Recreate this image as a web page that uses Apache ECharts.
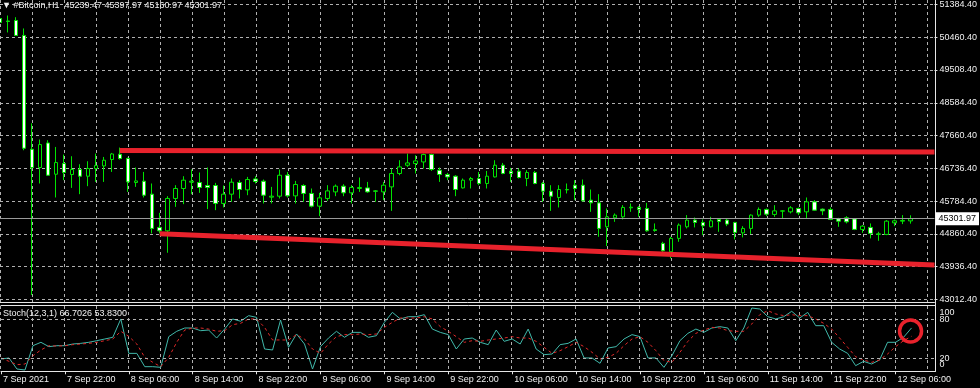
<!DOCTYPE html>
<html><head><meta charset="utf-8">
<script src="https://cdn.jsdelivr.net/npm/echarts@6/dist/echarts.min.js"></script>
<style>html,body{margin:0;padding:0;background:#000;}#c{width:980px;height:388px;}</style>
</head><body><div id="c"></div>
<script>
const symbolName = '#Bitcoin,H1';
const startTimeUTC = Date.UTC(2021, 8, 7, 14);   // first visible H1 bar: 7 Sep 2021 14:00
const blankBars = 3;                             // chart shift on the right

const opens = [50987,50917,50931,50505,47274,46755,47452,46565,46868,46556,
46698,46508,46726,46800,46982,47132,47010,46329,46366,45998,
45054,44957,45876,46159,46338,46329,46244,46244,45734,45998,
46329,46120,46431,46366,45913,45941,46536,45950,46244,46018,
45658,45876,46063,46225,46035,46159,46176,46091,46063,46205,
46585,46820,46868,46913,47123,46678,46556,46508,46176,46395,
46443,46301,46488,46820,46650,46650,46443,46613,46301,46083,
45904,46120,46253,46253,45828,45751,45071,45326,45354,45610,
45621,45592,44986,44600,44362,44742,45071,45261,45195,45071,
45280,45261,45195,44900,45025,45403,45564,45422,45516,45496,
45592,45496,45780,45573,45564,45297,45326,45297,44997,45054,
44855,44855,45184,45232,45239.47];
const highs = [51072,51072,51024,50704,48011,47549,47529,47339,47123,47075,
46848,46933,47152,47055,47169,47322,47038,46755,46630,46301,
45468,45941,46253,46508,46698,46613,46755,46318,46244,46443,
46395,46488,46508,46414,46205,46698,46630,46375,46281,46159,
46035,46253,46273,46281,46253,46471,46346,46111,46346,46726,
46962,47152,47103,47152,47152,46755,46602,46536,46443,46488,
46630,46658,46962,46885,46743,46726,46678,46658,46346,46253,
46253,46301,46395,46414,46131,45998,45592,45450,45686,45734,
45658,45751,45167,44646,44787,45167,45403,45337,45280,45354,
45309,45309,45212,45090,45422,45621,45592,45686,45544,45658,
45621,45904,45828,45592,45621,45326,45374,45317,45119,45167,
44929,45261,45280,45403,45397.97];
const lows = [50817,50591,50491,47245,43134,46301,46522,45904,46395,46176,
45998,46225,46346,46346,46630,46982,46063,46205,45904,44884,
44884,44334,45638,45714,45998,46035,45573,45544,45621,45780,
45876,45969,46301,45734,45734,45876,45904,45734,45780,45621,
45374,45808,45941,45941,45734,46063,46035,45780,45828,45524,
46536,46772,46585,46726,46658,46346,46395,45941,46159,46159,
46253,46159,46471,46565,46346,46443,46225,46281,45780,45524,
45621,46018,45828,45799,45496,44787,44523,45212,45280,45496,
45355,44929,44929,44362,44175,44646,45025,45054,44835,45054,
44929,45090,44713,44770,44864,45354,45374,45354,45309,45451,
45403,45309,45524,45403,45261,45071,45167,44977,44900,44742,
44674,44835,45090,45148,45160.97];
const closes = [50874,50903,50505,47302,46755,47407,46536,46896,46613,46698,
46508,46726,46811,46962,47140,47010,46346,46375,45969,45025,
44957,45876,46159,46395,46366,46188,46188,45734,45998,46338,
46131,46414,46358,45969,45941,46536,45950,46273,46018,45658,
45893,46091,46225,46035,46188,46188,46063,46083,46253,46585,
46772,46885,46942,47123,46698,46556,46488,46131,46395,46443,
46301,46508,46820,46585,46585,46471,46613,46301,46083,45941,
46131,46131,46159,45808,45751,45025,45354,45402,45621,45629,
45564,44957,44969,44390,44742,45119,45261,45195,45099,45241,
45224,45148,44912,45025,45403,45564,45431,45524,45524,45610,
45468,45780,45544,45524,45280,45232,45212,44997,45090,44884,
44872,45232,45241,45252,45301.97];

const stochK = [18.9,20.5,3.5,2,39.4,44.6,37.9,39.4,39.4,42,
43,44.6,47.1,49.7,52.3,80.5,27.6,27.6,7.1,7.1,
6.1,53.3,61.5,66.6,66.6,62.5,63.5,51.2,65,80.5,
77,85.6,83,34.3,32.8,78.9,36.9,57.4,42,3.5,
37.9,51.2,61.5,52.3,59.9,59.9,52.3,54.8,75.3,90.7,
80.5,84,84,87.1,65,59.9,56.4,34.3,49.7,51.2,
44.6,41,63.5,46.1,49.7,42,65,34.3,25.6,26.6,
41,43,49.7,20.5,20.5,12.3,35.8,37.9,49.7,56.4,
53.3,20.5,20.5,6.1,24,47.1,58.4,65,60,66.6,
68.7,66.6,47.1,66.6,97.4,95.8,84,80.5,84,92.3,
82,90.7,70.2,70.2,44.6,34.3,27.6,8.7,15.3,11.2,
17.4,44.6,44.6,52.3,66.7026];
const stochD = [20.5,15.3,10.2,11.2,24,32.8,39.4,38.9,39.4,41,
42,43,44.6,47.1,49.7,61.5,53.8,42,21.5,13.8,
7.1,21.5,44.6,63.5,66.6,66.6,65,61.5,62.5,71.7,
73.8,80.5,80.5,67.6,48.2,48.2,48.2,56.4,49.7,34.3,
27.6,42,53.3,56.4,56.4,57.4,56.4,57.4,67.6,75.3,
82,82,82,84,80.5,68.7,61.5,53.3,44.6,47.1,
46.1,48.2,49.7,51.2,53.3,51.2,51.2,46.1,36.9,27.6,
31.7,37.9,44.6,37.9,29.2,18.9,21.5,27.6,39.4,49.7,
53.3,44.6,31.7,16.4,13.8,29.2,46.1,58.4,63.5,67.6,
66.6,62.5,61.5,61.5,72.8,87.1,93.3,88.2,85.6,87.1,
85.6,85.6,80.5,73.8,65,51.2,36.9,22.5,17.4,13.8,
17.4,26.6,37.9,47.1,53.83];

const upperTrend = [[15, 47236], [117, 47197]];
const lowerTrend = [[20, 44872], [117, 43988]];

const yTickLabels = [43012.40,43936.40,44860.40,45784.40,46736.40,47660.40,48584.40,49508.40,50460.40,51384.40];
const xTickLabels = ['7 Sep 2021','7 Sep 22:00','8 Sep 06:00','8 Sep 14:00','8 Sep 22:00','9 Sep 06:00','9 Sep 14:00','9 Sep 22:00','10 Sep 06:00','10 Sep 14:00','10 Sep 22:00','11 Sep 06:00','11 Sep 14:00','11 Sep 22:00','12 Sep 06:00'];
const stochLevels = [20, 80];        // dashed levels, labelled at their own height
const stochBounds = [0, 100];        // scale ends, labelled just inside the pane

// ---------- build ----------
const n = opens.length;
const categories = [];
for (let i = 0; i < n + blankBars; i++) {
  categories.push(new Date(startTimeUTC + i * 3600000).toISOString().slice(0, 16));
}
const candleData = opens.map((o, i) => [o, closes[i], lows[i], highs[i]]);

const FONT = 'Liberation Sans';
const TXT = '#f0f0f0';
const GREEN = '#00e400';
const GRIDC = '#b0b0b0';
const RED = '#e8222c';
const WHITE = '#e6e6e6';
const L = -0.5, R = 44.5;

const yMin = yTickLabels[0], yMaxRaw = yTickLabels[yTickLabels.length - 1];
const ySteps = yTickLabels.length - 1;
const yStep = +((yMaxRaw - yMin) / ySteps).toFixed(4);
const yMax = +(yMin + ySteps * yStep).toFixed(4);
const nearestLabel = v => yTickLabels.reduce((a, b) => Math.abs(b - v) < Math.abs(a - v) ? b : a);

const labelEvery = 8, gridEvery = 4;
const txt = {color: TXT, fontSize: 9, fontFamily: FONT};
const stochGrid = {left: L, right: R, top: 306.3, bottom: 16.7};

const chart = echarts.init(document.getElementById('c'), null, {renderer: 'canvas'});
chart.setOption({
  backgroundColor: '#000',
  animation: false,
  title: [
    {text: '▼ ' + symbolName + '  ' + [opens[n-1], highs[n-1], lows[n-1], closes[n-1]].map(v => v.toFixed(2)).join(' '),
     left: 2, top: 1, padding: 0, textStyle: Object.assign({fontWeight: 'normal'}, txt)},
    {text: 'Stoch(12,3,1) ' + stochK[n-1].toFixed(4) + ' ' + stochD[n-1].toFixed(4),
     left: 3, top: 309, padding: 0, textStyle: Object.assign({fontWeight: 'normal'}, txt)}
  ],
  grid: [
    {left: L, right: R, top: 4, bottom: 88.7},
    Object.assign({}, stochGrid),
    {left: L, right: R, top: 0, bottom: 16.7},
    Object.assign({}, stochGrid)
  ],
  xAxis: [
    {gridIndex: 0, type: 'category', data: categories, boundaryGap: false, offset: 3.4,
     axisLine: {show: true, onZero: false, lineStyle: {color: WHITE}}, axisTick: {show: false},
     axisLabel: {show: false}, splitLine: {show: false}},
    {gridIndex: 1, type: 'category', data: categories, boundaryGap: false, position: 'bottom',
     axisLine: {show: true, onZero: false, lineStyle: {color: WHITE}},
     axisTick: {show: true, length: 3, interval: i => i % labelEvery === 0, lineStyle: {color: WHITE}},
     axisLabel: Object.assign({show: true, interval: i => i % labelEvery === 0, align: 'left', margin: 4,
       padding: [0, 0, 0, 2],
       formatter: v => { const k = categories.indexOf(v); return k % labelEvery === 0 ? (xTickLabels[k / labelEvery] || '') : ''; }}, txt),
     splitLine: {show: false}},
    {gridIndex: 1, type: 'category', data: categories, boundaryGap: false, position: 'top', offset: 1.3,
     axisLine: {show: true, onZero: false, lineStyle: {color: WHITE}}, axisTick: {show: false},
     axisLabel: {show: false}, splitLine: {show: false}},
    {gridIndex: 2, type: 'category', data: categories, boundaryGap: false,
     axisLine: {show: false}, axisTick: {show: false}, axisLabel: {show: false},
     splitLine: {show: true, interval: i => i % gridEvery === 0, lineStyle: {color: GRIDC, type: [3, 3], width: 1}}},
    {gridIndex: 3, type: 'category', data: categories, boundaryGap: false, show: false}
  ],
  yAxis: [
    {gridIndex: 0, type: 'value', position: 'right', min: yMin, max: yMax, interval: yStep,
     axisLine: {show: false}, axisTick: {show: true, length: 3, lineStyle: {color: WHITE}},
     axisLabel: Object.assign({margin: 5, showMinLabel: true, showMaxLabel: true,
       formatter: v => nearestLabel(v).toFixed(2)}, txt),
     splitLine: {show: true, lineStyle: {color: GRIDC, type: [3, 3], width: 1}}},
    {gridIndex: 1, type: 'value', position: 'right', min: 0, max: 100, interval: 20,
     axisLine: {show: false}, axisTick: {show: false}, splitLine: {show: false},
     axisLabel: Object.assign({margin: 4, showMinLabel: false, showMaxLabel: false,
       formatter: v => stochLevels.indexOf(v) >= 0 ? String(v) : ''}, txt)},
    {gridIndex: 2, type: 'value', position: 'right', min: 0, max: 1,
     axisLine: {show: true, lineStyle: {color: WHITE}}, axisTick: {show: false},
     axisLabel: {show: false}, splitLine: {show: false}},
    {gridIndex: 3, type: 'value', position: 'right', min: 0, max: 100, interval: 20,
     axisLine: {show: false}, axisTick: {show: false}, splitLine: {show: false},
     axisLabel: Object.assign({margin: 4, showMinLabel: true, showMaxLabel: true,
       formatter: v => {
         if (stochBounds.indexOf(v) < 0) return '';
         return v === stochBounds[1] ? '{dn|' + v + '}' : '{up|' + v + '}';
       },
       rich: {dn: Object.assign({padding: [13, 0, 0, 0]}, txt), up: Object.assign({padding: [0, 0, 14, 0]}, txt)}}, txt)}
  ],
  series: [
    {type: 'candlestick', xAxisIndex: 0, yAxisIndex: 0, data: candleData, barWidth: 4,
     itemStyle: {color: '#000', color0: '#fff', borderColor: GREEN, borderColor0: GREEN, borderWidth: 1},
     emphasis: {disabled: true},
     markLine: {silent: true, symbol: ['none', 'none'], animation: false,
       lineStyle: {color: '#9a9a9a', type: 'solid', width: 1},
       label: {show: true, position: 'end', distance: 1, formatter: p => Number(p.value).toFixed(2),
         backgroundColor: '#fff', color: '#000', fontSize: 9, fontFamily: FONT, padding: [2, 3, 2, 3]},
       data: [{yAxis: closes[n-1]}]}},
    {type: 'line', xAxisIndex: 0, yAxisIndex: 0, data: upperTrend, symbol: 'none', silent: true,
     lineStyle: {color: RED, width: 5}, z: 5},
    {type: 'line', xAxisIndex: 0, yAxisIndex: 0, data: lowerTrend, symbol: 'none', silent: true,
     lineStyle: {color: RED, width: 5}, z: 5},
    {type: 'line', xAxisIndex: 1, yAxisIndex: 1, data: stochK, symbol: 'none', silent: true,
     lineStyle: {color: '#40b8aa', width: 1},
     markLine: {silent: true, symbol: ['none', 'none'], label: {show: false},
       lineStyle: {color: GRIDC, type: [3, 3], width: 1},
       data: stochLevels.map(v => ({yAxis: v}))},
     markPoint: {silent: true, symbol: 'circle', symbolSize: 22, symbolOffset: [-1, 3],
       itemStyle: {color: 'rgba(0,0,0,0)', borderColor: RED, borderWidth: 3.5},
       label: {show: false},
       data: [{coord: [n - 1, stochK[n - 1]]}]}},
    {type: 'line', xAxisIndex: 1, yAxisIndex: 1, data: stochD, symbol: 'none', silent: true,
     lineStyle: {color: '#e02828', width: 1, type: [3, 3]}}
  ]
});
</script></body></html>
